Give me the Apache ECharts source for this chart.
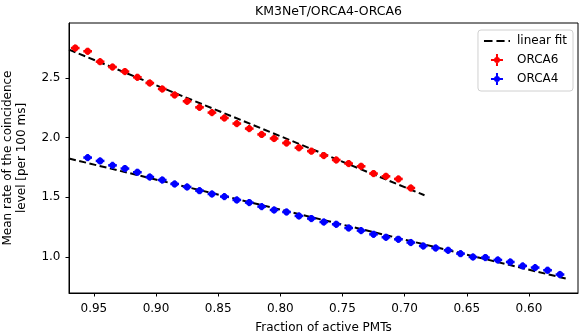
<!DOCTYPE html>
<html>
<head>
<meta charset="utf-8">
<script src="https://cdn.jsdelivr.net/npm/echarts@6/dist/echarts.min.js"></script>
<style>html,body{margin:0;padding:0;background:#fff}#c{width:581px;height:335px}</style>
</head>
<body>
<div id="c"></div>
<script>
// ORCA6 measurements
const orca6X = [0.965,0.955,0.945,0.935,0.925,0.915,0.905,0.895,0.885,0.875,0.865,0.855,0.845,0.835,0.825,0.815,0.805,0.795,0.785,0.775,0.765,0.755,0.745,0.735,0.725,0.715,0.705,0.695];
const orca6Y = [2.751,2.724,2.637,2.592,2.554,2.506,2.458,2.408,2.358,2.305,2.254,2.210,2.165,2.118,2.076,2.027,1.993,1.955,1.915,1.887,1.850,1.813,1.783,1.760,1.699,1.676,1.654,1.578];
// ORCA4 measurements
const orca4X = [0.955,0.945,0.935,0.925,0.915,0.905,0.895,0.885,0.875,0.865,0.855,0.845,0.835,0.825,0.815,0.805,0.795,0.785,0.775,0.765,0.755,0.745,0.735,0.725,0.715,0.705,0.695,0.685,0.675,0.665,0.655,0.645,0.635,0.625,0.615,0.605,0.595,0.585,0.575];
const orca4Y = [1.833,1.805,1.768,1.741,1.710,1.670,1.645,1.612,1.587,1.556,1.528,1.506,1.478,1.456,1.422,1.394,1.377,1.344,1.322,1.293,1.274,1.243,1.221,1.190,1.165,1.148,1.121,1.092,1.075,1.056,1.028,1.000,0.995,0.975,0.958,0.925,0.911,0.889,0.853];
// error bar half-widths
const xErr = 0.0035;
const yErr = 0.03;
// linear fit end points
const fit6X = [0.970, 0.684];
const fit6Y = [2.738, 1.517];
const fit4X = [0.970, 0.568];
const fit4Y = [1.825, 0.813];
// ticks
const xTicks = [0.60,0.65,0.70,0.75,0.80,0.85,0.90,0.95];
const yTicks = [1.0,1.5,2.0,2.5];

const FONT = 'DejaVu Sans';
const chart = echarts.init(document.getElementById('c'), null, {renderer:'canvas'});

function errRender(color){
  return function(params, api){
    const x = api.value(0), y = api.value(1);
    const c = api.coord([x,y]);
    const l = api.coord([x+xErr,y]), r = api.coord([x-xErr,y]);
    const t = api.coord([x,y+yErr]), b = api.coord([x,y-yErr]);
    return {type:'group', children:[
      {type:'line', shape:{x1:l[0],y1:l[1],x2:r[0],y2:r[1]}, style:{stroke:color,lineWidth:2.5}},
      {type:'line', shape:{x1:t[0],y1:t[1],x2:b[0],y2:b[1]}, style:{stroke:color,lineWidth:2.5}},
      {type:'circle', shape:{cx:c[0],cy:c[1],r:3.2}, style:{fill:color}}
    ]};
  };
}
const plusIcon = 'path://M0,5h12v2h-12z M5,0h2v12h-2z M3,6a3,3 0 1,1 6,0a3,3 0 1,1 -6,0z';
const dashIcon = 'path://M0,0h8.7v2h-8.7z M12.7,0h8.3v2h-8.3z M25,0h1.5v2h-1.5z';

chart.setOption({
  animation:false,
  backgroundColor:'#fff',
  title:{text:'KM3NeT/ORCA4-ORCA6', left:323.5, top:0, textAlign:'center',
    textStyle:{fontFamily:FONT,fontSize:12.5,fontWeight:'normal',color:'#000'}},
  grid:{left:69,right:3,top:23,bottom:42,outerBoundsMode:'none',containLabel:false,
    show:true,borderColor:'#000',borderWidth:1,backgroundColor:'transparent'},
  legend:{
    orient:'vertical', right:8, top:30,
    backgroundColor:'rgba(255,255,255,0.85)', borderColor:'#d0d0d0', borderWidth:1, borderRadius:3,
    padding:[5,6,6,6], itemWidth:26, itemHeight:12, itemGap:7,
    textStyle:{fontFamily:FONT,fontSize:12,color:'#000',padding:[0,0,0,2]},
    data:[
      {name:'linear fit', icon:dashIcon, itemStyle:{color:'#000'}},
      {name:'ORCA6', icon:plusIcon, itemStyle:{color:'#ff0000'}},
      {name:'ORCA4', icon:plusIcon, itemStyle:{color:'#0000ff'}}
    ]
  },
  xAxis:{type:'value', inverse:true, min:0.5605, max:0.970,
    name:'Fraction of active PMTs', nameLocation:'middle', nameGap:29,
    nameTextStyle:{fontFamily:FONT,fontSize:12,color:'#000'},
    axisLine:{show:true,lineStyle:{color:'#000',width:1}},
    axisTick:{show:true,length:3.5,lineStyle:{color:'#000'},customValues:xTicks},
    axisLabel:{fontFamily:FONT,fontSize:12,color:'#000',margin:10,customValues:xTicks,
      formatter:v=>v.toFixed(2)},
    splitLine:{show:false}},
  yAxis:{type:'value', min:0.698, max:2.961,
    name:'Mean rate of the coincidence\nlevel [per 100 ms]', nameLocation:'middle', nameGap:40,
    nameTextStyle:{fontFamily:FONT,fontSize:12,color:'#000',lineHeight:14},
    axisLine:{show:true,lineStyle:{color:'#000',width:1}},
    axisTick:{show:true,length:3.5,lineStyle:{color:'#000'},customValues:yTicks},
    axisLabel:{fontFamily:FONT,fontSize:12,color:'#000',margin:8.5,customValues:yTicks,
      formatter:v=>v.toFixed(1)},
    splitLine:{show:false}},
  series:[
    {name:'linear fit', type:'line', data:fit6X.map((x,i)=>[x,fit6Y[i]]), symbol:'none',
      lineStyle:{color:'#000',width:2,type:[7,3.5]}, itemStyle:{color:'#000'}, z:1},
    {name:'linear fit', type:'line', data:fit4X.map((x,i)=>[x,fit4Y[i]]), symbol:'none',
      lineStyle:{color:'#000',width:2,type:[7,3.5]}, itemStyle:{color:'#000'}, z:1},
    {name:'ORCA6', type:'custom', renderItem:errRender('#ff0000'), itemStyle:{color:'#ff0000'},
      data:orca6X.map((x,i)=>[x,orca6Y[i]]), encode:{x:0,y:1}, z:2},
    {name:'ORCA4', type:'custom', renderItem:errRender('#0000ff'), itemStyle:{color:'#0000ff'},
      data:orca4X.map((x,i)=>[x,orca4Y[i]]), encode:{x:0,y:1}, z:2}
  ]
});
</script>
</body>
</html>
